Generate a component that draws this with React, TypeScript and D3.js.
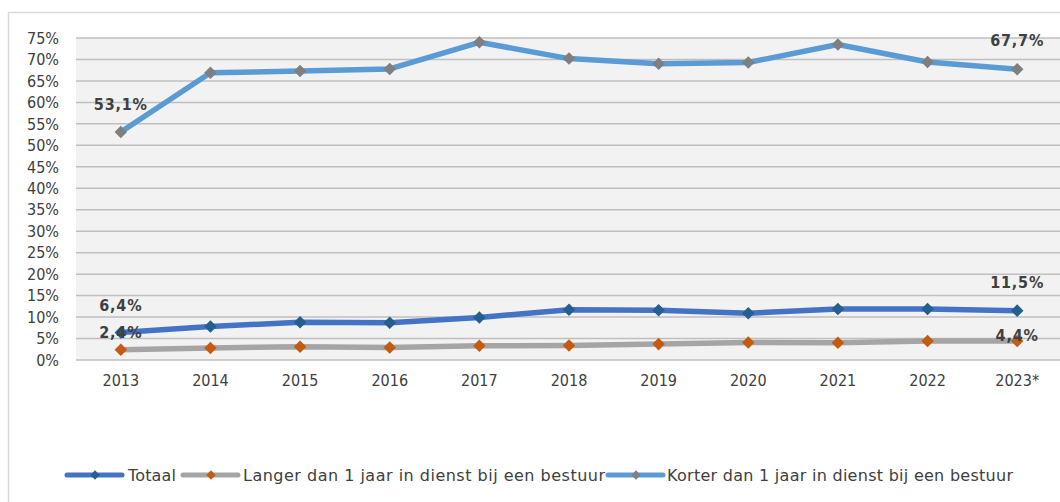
import React from 'react';
import * as d3 from 'd3';

const years = ['2013', '2014', '2015', '2016', '2017', '2018', '2019', '2020', '2021', '2022', '2023*'];
const totaal = [6.4, 7.8, 8.8, 8.7, 9.9, 11.7, 11.6, 10.9, 11.9, 11.9, 11.5];
const langer = [2.4, 2.8, 3.1, 2.9, 3.3, 3.4, 3.7, 4.1, 4.0, 4.4, 4.4];
const korter = [53.1, 66.9, 67.3, 67.8, 74.0, 70.2, 69.0, 69.3, 73.5, 69.4, 67.7];
const yTicks = [0, 5, 10, 15, 20, 25, 30, 35, 40, 45, 50, 55, 60, 65, 70, 75];

const seriesNames = ['Totaal', 'Langer dan 1 jaar in dienst bij een bestuur', 'Korter dan 1 jaar in dienst bij een bestuur'];

const series = [
  { name: seriesNames[0], values: totaal, line: '#4472c4', marker: '#255e91' },
  { name: seriesNames[1], values: langer, line: '#a5a5a5', marker: '#c55a11' },
  { name: seriesNames[2], values: korter, line: '#5b9bd5', marker: '#7f7f7f' },
];

// first and last point of every series get a value label
const labelOffsets = [
  [27, 28],
  [17, 6],
  [28, 29],
];

const fmt = (v: number) => v.toFixed(1).replace('.', ',') + '%';
const font = '"DejaVu Sans Condensed", "DejaVu Sans", sans-serif';

const App = () => {
  const width = 1060;
  const height = 502;
  const plot = { left: 76, right: 1062, top: 38, bottom: 360 };

  const x = d3.scalePoint<string>().domain(years).range([plot.left, plot.right]).padding(0.5);
  const y = d3.scaleLinear().domain([0, 75]).range([plot.bottom, plot.top]);

  const line = d3.line<number>()
    .x((_, i) => x(years[i]) as number)
    .y(d => y(d));

  const diamond = d3.symbol().type(d3.symbolDiamond2).size(100)();
  const smallDiamond = d3.symbol().type(d3.symbolDiamond2).size(55)();

  const legendItems = [
    { s: series[0], x0: 67, tx: 128, w: 48 },
    { s: series[1], x0: 183, tx: 243, w: 362 },
    { s: series[2], x0: 608, tx: 667, w: 346 },
  ];

  return (
    <svg width={width} height={height} style={{ position: 'absolute', left: 0, top: 0, fontFamily: font }}>
      <rect x={0} y={0} width={width} height={height} fill="#ffffff" />
      <rect x={8.5} y={12.5} width={width + 20} height={height + 20} fill="none" stroke="#d9d9d9" strokeWidth={1.5} />
      <rect x={plot.left} y={plot.top} width={plot.right - plot.left} height={plot.bottom - plot.top} fill="#f2f2f2" />
      {yTicks.map(t => (
        <g key={t}>
          <line x1={plot.left} x2={plot.right} y1={y(t)} y2={y(t)} stroke="#bfbfbf" strokeWidth={1.5} />
          <text x={59} y={y(t)} dy="0.36em" textAnchor="end" fontSize={16} fill="#404040">{t}%</text>
        </g>
      ))}
      {years.map(yr => (
        <text key={yr} x={x(yr)} y={386} textAnchor="middle" fontSize={16} fill="#404040">{yr}</text>
      ))}
      {series.map(s => (
        <g key={s.name}>
          <path d={line(s.values) || ''} fill="none" stroke={s.line} strokeWidth={5.5} strokeLinejoin="round" strokeLinecap="round" />
          {s.values.map((v, i) => (
            <path key={i} d={diamond || ''} transform={`translate(${x(years[i])},${y(v)})`} fill={s.marker} />
          ))}
        </g>
      ))}
      {series.map((s, si) => {
        const idx = [0, s.values.length - 1];
        return idx.map((i, k) => (
          <text key={s.name + i} x={x(years[i])} y={y(s.values[i]) - labelOffsets[si][k]} dy="0.36em"
            textAnchor="middle" fontSize={16} fontWeight="bold" fill="#404040" letterSpacing={0.8}>{fmt(s.values[i])}</text>
        ));
      })}
      {legendItems.map(({ s, x0, tx, w }) => (
        <g key={s.name}>
          <line x1={x0} x2={x0 + 55} y1={475} y2={475} stroke={s.line} strokeWidth={5} strokeLinecap="round" />
          <path d={smallDiamond || ''} transform={`translate(${x0 + 28},475)`} fill={s.marker} />
          <text x={tx} y={475} dy="0.36em" fontSize={16} fill="#404040" fontFamily='"DejaVu Sans", sans-serif'
            textLength={w} lengthAdjust="spacing">{s.name}</text>
        </g>
      ))}
    </svg>
  );
};

export default App;
